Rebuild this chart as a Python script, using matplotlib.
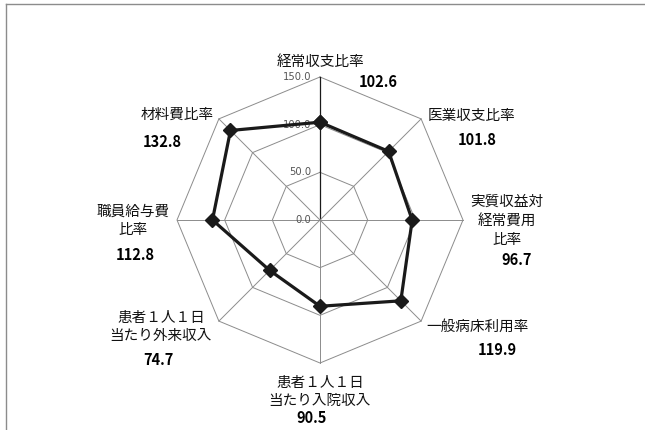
import numpy as np
import matplotlib
matplotlib.use("Agg")
import matplotlib.pyplot as plt
from matplotlib.lines import Line2D

plt.rcParams['font.family'] = ['Noto Sans CJK JP', 'DejaVu Sans']

# ---- data ----
categories = ["経常収支比率", "医業収支比率", "実質収益対\n経常費用\n比率", "一般病床利用率",
              "患者１人１日\n当たり入院収入", "患者１人１日\n当たり外来収入", "職員給与費\n比率", "材料費比率"]
values = [102.6, 101.8, 96.7, 119.9, 90.5, 74.7, 112.8, 132.8]
ticks = [0, 50, 100, 150]
tick_labels = ["0.0", "50.0", "100.0", "150.0"]

W, H = 645, 430
CX, CY = 320, 220          # centre in pixels (from top-left)
RPX = 143                  # pixels for r=150
RMAX = 150
s = RMAX / RPX

fig = plt.figure(figsize=(W / 100, H / 100), dpi=100)
ax = fig.add_axes([0, 0, 1, 1])
ax.set_xlim(-CX * s, (W - CX) * s)
ax.set_ylim(-(H - CY) * s, CY * s)
ax.axis('off')

n = len(categories)
ang = np.arange(n) * 2 * np.pi / n

def xy(r):
    r = np.asarray(r, dtype=float)
    return r * np.sin(ang), r * np.cos(ang)

# grid polygons
for t in ticks[1:]:
    gx, gy = xy([t] * n)
    ax.plot(np.append(gx, gx[0]), np.append(gy, gy[0]), color='#8c8c8c', lw=0.7, zorder=1)
# spokes
for i in range(n):
    ex, ey = RMAX * np.sin(ang[i]), RMAX * np.cos(ang[i])
    ax.plot([0, ex], [0, ey], color='#1a1a1a' if i == 0 else '#8c8c8c',
            lw=0.9 if i == 0 else 0.7, zorder=1)

# tick labels
for t, lab in zip(ticks, tick_labels):
    ax.text(-9 * s, t, lab, ha='right', va='center', fontsize=7.2,
            color='#555555', family='DejaVu Sans', zorder=2)

# data line
vx, vy = xy(values)
ax.plot(np.append(vx, vx[0]), np.append(vy, vy[0]), color='#1a1a1a', lw=2.3,
        marker='D', markersize=7.5, markerfacecolor='#1a1a1a', markeredgecolor='#1a1a1a', zorder=4)

# label layout (pixel centres)
cat_pos = [(320, 62), (471, 116), (507, 221), (478, 327),
           (320, 392), (161, 327), (133, 221), (177, 115)]
val_pos = [(378, 82), (477, 140), (517, 260), (497, 350),
           (312, 418), (158, 360), (135, 255), (162, 142)]

def d(px, py):
    return (px - CX) * s, (CY - py) * s

for c, v, cp, vp in zip(categories, values, cat_pos, val_pos):
    ax.text(*d(*cp), c, ha='center', va='center', fontsize=10.5,
            color='#111111', linespacing=1.45, zorder=5)
    ax.text(*d(*vp), f"{v:.1f}", ha='center', va='center', fontsize=10.5,
            fontweight='bold', color='#000000', zorder=5)

# frame lines (top & left)
fig.add_artist(Line2D([6 / W, 1], [1 - 4 / H, 1 - 4 / H], color='#8c8c8c', lw=1.0))
fig.add_artist(Line2D([6 / W, 6 / W], [0, 1 - 4 / H], color='#8c8c8c', lw=1.0))

fig.savefig("out.png", dpi=100)
